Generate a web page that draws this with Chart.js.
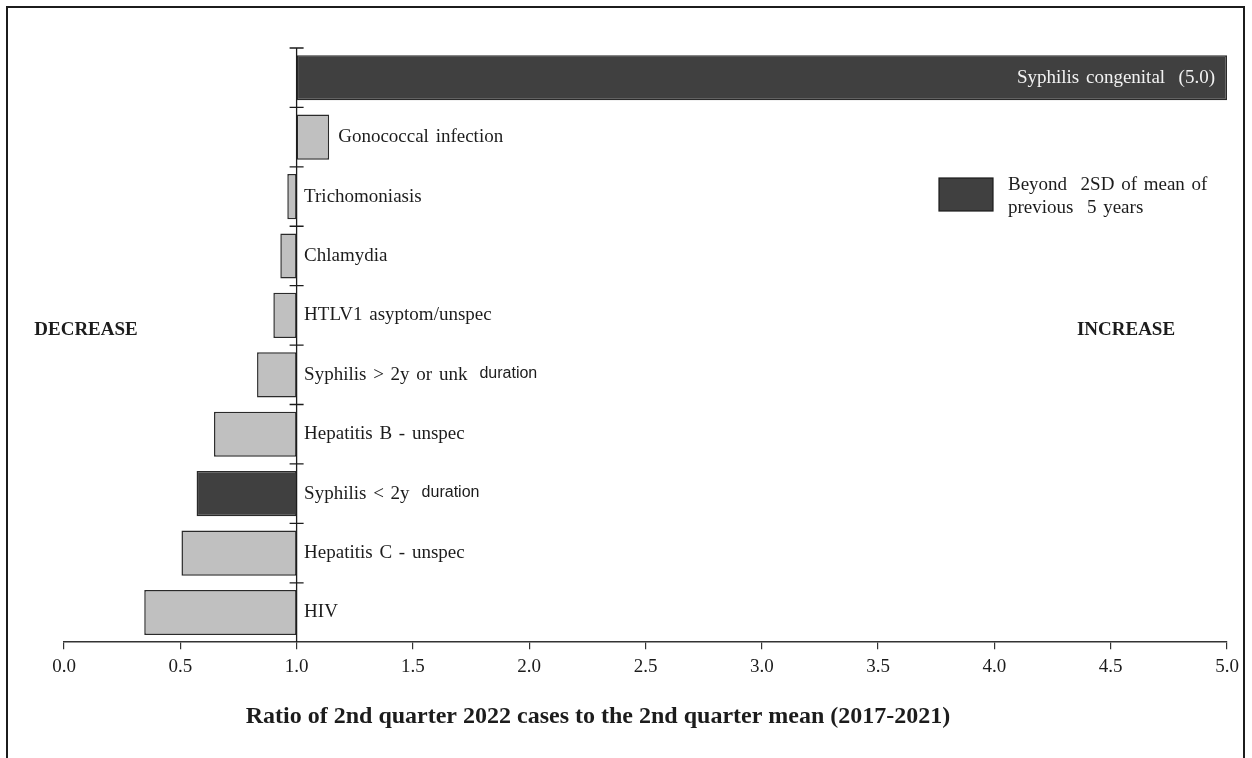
<!DOCTYPE html>
<html>
<head>
<meta charset="utf-8">
<title>Ratio of 2nd quarter 2022 cases</title>
<script src="https://cdn.jsdelivr.net/npm/chart.js@4.4.0/dist/chart.umd.min.js"></script>
<style>
    html, body { margin: 0; padding: 0; background: #fff; }
    #wrap { width: 1252px; height: 758px; }
</style>
</head>
<body>
<div id="wrap"><canvas id="myChart" width="1252" height="758"></canvas></div>
<script>
const categories = [
    'Syphilis congenital',
    'Gonococcal infection',
    'Trichomoniasis',
    'Chlamydia',
    'HTLV1 asyptom/unspec',
    'Syphilis > 2y or unk duration',
    'Hepatitis B - unspec',
    'Syphilis < 2y duration',
    'Hepatitis C - unspec',
    'HIV'
];
const ratios = [5.0, 1.14, 0.96, 0.93, 0.90, 0.83, 0.645, 0.57, 0.505, 0.345];
const beyond2SD = [true, false, false, false, false, false, false, true, false, false];
const tickValues = [0, 0.5, 1, 1.5, 2, 2.5, 3, 3.5, 4, 4.5, 5];
const tickLabels = ['0.0', '0.5', '1.0', '1.5', '2.0', '2.5', '3.0', '3.5', '4.0', '4.5', '5.0'];
const baseline = 1.0;

const axisTitle = 'Ratio of 2nd quarter 2022 cases to the 2nd quarter mean (2017-2021)';
const legendLines = ['Beyond  2SD of mean of', 'previous  5 years'];

const DARK = '#404040';
const LIGHT = '#c0c0c0';
const INK = '#1c1c1c';
const SERIF = '"Liberation Serif", "Times New Roman", serif';
const SANS = '"Liberation Sans", Arial, sans-serif';

document.addEventListener('DOMContentLoaded', function () {
    // labels, baseline, legend and frame drawn on top of the bars
    const overlay = {
        id: 'overlay',
        afterDatasetsDraw(chart) {
            const c = chart.ctx;
            const xs = chart.scales.x;
            const ys = chart.scales.y;
            const x1 = xs.getPixelForValue(baseline);

            c.save();
            c.strokeStyle = INK;

            // outer frame (open at the bottom)
            c.lineWidth = 2;
            c.beginPath();
            c.moveTo(7, 758);
            c.lineTo(7, 7);
            c.lineTo(1244, 7);
            c.lineTo(1244, 758);
            c.stroke();

            // vertical line at ratio 1.0 with crossing ticks between categories
            c.lineWidth = 1.3;
            c.beginPath();
            c.moveTo(x1, ys.top);
            c.lineTo(x1, ys.bottom);
            categories.forEach((cat, i) => {
                const y = ys.getPixelForValue(i - 0.5);
                c.moveTo(x1 - 7, y);
                c.lineTo(x1 + 7, y);
            });
            c.stroke();

            // category labels
            c.textBaseline = 'middle';
            c.fillStyle = INK;
            if ('wordSpacing' in c) c.wordSpacing = '2px';
            categories.forEach((cat, i) => {
                const y = ys.getPixelForValue(i);
                const v = ratios[i];
                c.font = '19px ' + SERIF;
                if (v >= xs.max) {
                    c.textAlign = 'right';
                    c.fillStyle = '#f2f2f2';
                    c.fillText(cat + '  (' + v.toFixed(1) + ')', xs.getPixelForValue(v) - 12, y);
                    c.fillStyle = INK;
                    return;
                }
                c.textAlign = 'left';
                const x = v > baseline ? xs.getPixelForValue(v) + 9 : x1 + 7.5;
                if (cat.endsWith(' duration')) {
                    const head = cat.slice(0, -' duration'.length);
                    c.fillText(head, x, y);
                    const w = c.measureText(head).width;
                    c.font = '16px ' + SANS;
                    c.fillText('duration', x + w + 12, y - 1);
                } else {
                    c.fillText(cat, x, y);
                }
            });

            // side annotations
            c.font = 'bold 19px ' + SERIF;
            c.textAlign = 'center';
            c.fillText('DECREASE', 86, 330);
            c.fillText('INCREASE', 1126, 330);

            // legend
            c.fillStyle = DARK;
            c.fillRect(939, 178, 54, 33);
            c.lineWidth = 1.2;
            c.strokeRect(939, 178, 54, 33);
            c.fillStyle = INK;
            c.textAlign = 'left';
            c.font = '19px ' + SERIF;
            c.fillText(legendLines[0], 1008, 185);
            c.fillText(legendLines[1], 1008, 208);

            // x axis title
            if ('wordSpacing' in c) c.wordSpacing = '0px';
            c.font = 'bold 24px ' + SERIF;
            c.textAlign = 'center';
            c.fillText(axisTitle, 598, 717);

            c.restore();
        }
    };

    const ctx = document.getElementById('myChart').getContext('2d');
    const myChart = new Chart(ctx, {
        type: 'bar',
        data: {
            labels: categories,
            datasets: [{
                data: ratios.map(v => [baseline, v]),
                backgroundColor: beyond2SD.map(b => b ? DARK : LIGHT),
                borderColor: '#2a2a2a',
                borderWidth: 1.5,
                borderSkipped: false,
                categoryPercentage: 1,
                barPercentage: 0.76
            }]
        },
        options: {
            indexAxis: 'y',
            responsive: false,
            animation: false,
            devicePixelRatio: 1,
            layout: {
                padding: { left: 64, right: 25, top: 48, bottom: 74 }
            },
            plugins: {
                legend: { display: false },
                tooltip: { enabled: false }
            },
            scales: {
                x: {
                    type: 'linear',
                    min: 0,
                    max: 5,
                    afterBuildTicks: scale => {
                        scale.ticks = tickValues.map(v => ({ value: v }));
                    },
                    grid: {
                        drawOnChartArea: false,
                        drawTicks: true,
                        tickLength: 7,
                        color: '#333',
                        lineWidth: 1.2
                    },
                    border: { color: '#333', width: 1.5 },
                    ticks: {
                        color: INK,
                        padding: 6,
                        maxRotation: 0,
                        autoSkip: false,
                        font: { family: SERIF, size: 19 },
                        callback: (v, i) => tickLabels[i]
                    }
                },
                y: {
                    type: 'category',
                    display: false,
                    offset: true
                }
            }
        },
        plugins: [overlay]
    });
});
</script>
</body>
</html>
